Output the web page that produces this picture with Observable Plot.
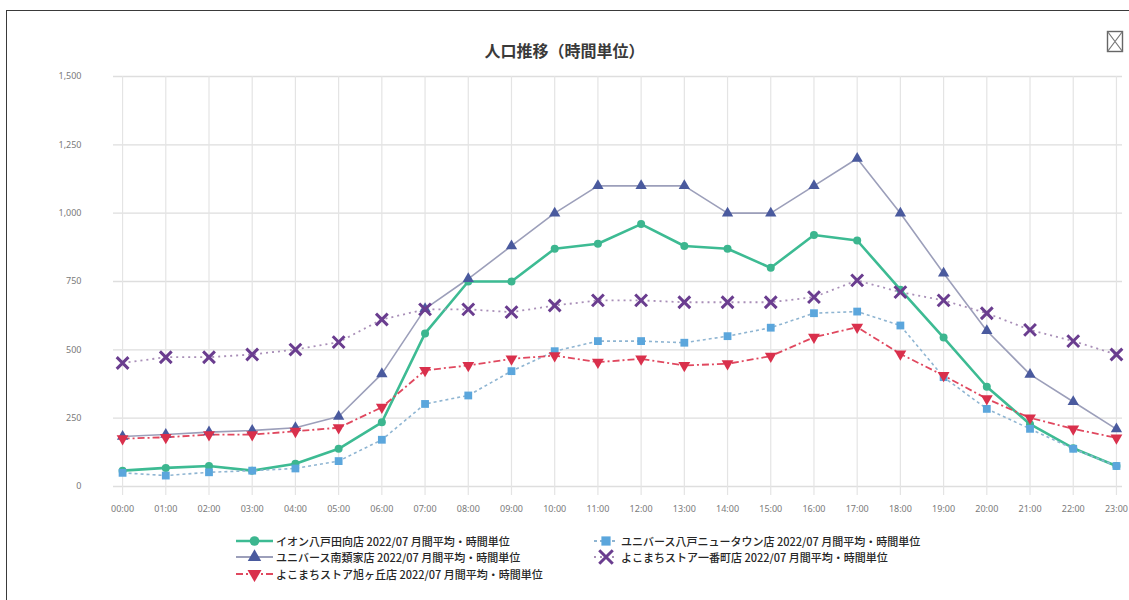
<!DOCTYPE html>
<html>
<head>
<meta charset="utf-8">
<script src="https://cdn.jsdelivr.net/npm/d3@7"></script>
<script src="https://cdn.jsdelivr.net/npm/@observablehq/plot@0.6"></script>
<style>
  body { margin: 0; background: #fff; width: 1129px; height: 600px; overflow: hidden; position: relative;
         font-family: "Noto Sans CJK JP", "Noto Sans", sans-serif; }
  #frame { position: absolute; left: 6px; top: 10px; width: 1300px; height: 800px;
           border-top: 1.5px solid #3a3a3a; border-left: 1.5px solid #3a3a3a; }
  #title { position: absolute; left: 0; top: 38px; width: 1129px; text-align: center;
           font-size: 16px; font-weight: bold; color: #3a3a3a; line-height: 24px; }
  #icon { position: absolute; left: 1106px; top: 30px; }
  #chart { position: absolute; left: 0; top: 0; }
  .leg { position: absolute; display: flex; align-items: center; height: 16px;
         font-size: 11px; color: #262626; white-space: nowrap; font-weight: 500; }
  .leg svg { display: block; margin-right: 3px; }
</style>
</head>
<body>
<div id="frame"></div>
<div id="title">人口推移（時間単位）</div>
<svg id="icon" width="18" height="23" viewBox="0 0 18 23">
  <rect x="1.5" y="1.5" width="15" height="20" fill="none" stroke="#666" stroke-width="1.4"/>
  <path d="M1.5 1.5 L16.5 21.5 M16.5 1.5 L1.5 21.5" stroke="#777" stroke-width="1.2"/>
</svg>
<div id="chart"></div>
<div id="legend"></div>
<script>
// Hour labels along the x axis
const hourLabels = ["00:00","01:00","02:00","03:00","04:00","05:00","06:00","07:00",
  "08:00","09:00","10:00","11:00","12:00","13:00","14:00","15:00",
  "16:00","17:00","18:00","19:00","20:00","21:00","22:00","23:00"];

// Y axis tick values
const yTicks = [0, 250, 500, 750, 1000, 1250, 1500];

// Hourly population per store (2022/07 monthly average)
const aeonTamukai    = [58, 68, 75, 58, 83, 138, 235, 560, 750, 750, 870, 888, 960, 880, 870, 800, 920, 900, 720, 545, 365, 228, 140, 75];
const uniNewtown     = [50, 40, 52, 58, 66, 93, 171, 302, 333, 422, 495, 532, 532, 526, 550, 581, 634, 640, 589, 400, 284, 211, 138, 75];
const uniMinami      = [183, 190, 199, 205, 215, 256, 412, 650, 760, 880, 1000, 1100, 1100, 1100, 1000, 1000, 1100, 1200, 1000, 780, 570, 410, 310, 210];
const yokoIchibancho = [452, 473, 473, 483, 501, 528, 611, 648, 648, 638, 662, 681, 681, 674, 674, 674, 693, 754, 711, 681, 634, 573, 532, 483];
const yokoAsahi      = [175, 180, 190, 190, 202, 215, 290, 425, 443, 467, 479, 455, 467, 443, 449, 477, 546, 583, 485, 406, 321, 251, 211, 178];

// Series names shown in the legend
const names = [
  "イオン八戸田向店 2022/07 月間平均・時間単位",
  "ユニバース八戸ニュータウン店 2022/07 月間平均・時間単位",
  "ユニバース南類家店 2022/07 月間平均・時間単位",
  "よこまちストア一番町店 2022/07 月間平均・時間単位",
  "よこまちストア旭ヶ丘店 2022/07 月間平均・時間単位"
];

// Downward-pointing triangle symbol
const triangleDown = {
  draw(context, size) {
    const y = -Math.sqrt(size / (Math.sqrt(3) * 3));
    context.moveTo(0, -y * 2);
    context.lineTo(-Math.sqrt(3) * y, y);
    context.lineTo(Math.sqrt(3) * y, y);
    context.closePath();
  }
};

const series = [
  { name: names[0], values: aeonTamukai, line: "#3dbb93", lw: 2.6, dash: null, marker: "#3cb68f", symbol: "circle", r: 4, filled: true },
  { name: names[1], values: uniNewtown, line: "#8fb5d2", lw: 1.6, dash: "3,3", marker: "#5ba6dc", symbol: "square", r: 4.4, filled: true },
  { name: names[2], values: uniMinami, line: "#9c9fba", lw: 1.6, dash: null, marker: "#4a5a9e", symbol: "triangle", r: 4.2, filled: true },
  { name: names[3], values: yokoIchibancho, line: "#a98fb8", lw: 1.8, dash: "2,4", marker: "#6a3d8f", symbol: "times", r: 5.4, filled: false },
  { name: names[4], values: yokoAsahi, line: "#e0485f", lw: 1.8, dash: "7,3,2,3", marker: "#d9304c", symbol: triangleDown, r: 4.4, filled: true }
];

const toRows = vals => vals.map((v, i) => ({ i, v }));

const marks = [
  Plot.ruleY(yTicks, { stroke: "#dedede", strokeWidth: 1.3 }),
  Plot.ruleX(d3.range(hourLabels.length), { y1: 1500, y2: -33, stroke: "#e4e4e4", strokeWidth: 1.2 }),
  Plot.axisY(yTicks, { tickFormat: d3.format(","), tickSize: 0, tickPadding: 32, fontSize: 9, color: "#7a7a7a", label: null }),
  Plot.axisX(d3.range(hourLabels.length), { tickFormat: i => hourLabels[i], tickSize: 0, tickPadding: 19, fontSize: 9, color: "#7a7a7a", label: null })
];

// Connecting lines first, then the markers on top
for (const s of series) {
  marks.push(Plot.line(toRows(s.values), {
    x: "i", y: "v", stroke: s.line, strokeWidth: s.lw,
    strokeDasharray: s.dash || undefined, strokeLinecap: "butt"
  }));
}
for (const s of series) {
  marks.push(Plot.dot(toRows(s.values), s.filled
    ? { x: "i", y: "v", symbol: s.symbol, r: s.r, fill: s.marker, stroke: "none" }
    : { x: "i", y: "v", symbol: s.symbol, r: s.r, fill: "none", stroke: s.marker, strokeWidth: 3 }));
}

const chart = Plot.plot({
  width: 1129,
  height: 530,
  marginTop: 76,
  marginBottom: 44,
  marginLeft: 113,
  marginRight: 7,
  style: { background: "transparent", fontFamily: "'Noto Sans', sans-serif" },
  x: { type: "linear", domain: [-0.21, 23.14] },
  y: { domain: [0, 1500] },
  marks
});
document.getElementById("chart").appendChild(chart);

// Legend: two columns, entries flowing row by row
const legendPos = [
  { left: 236, top: 533, w: 37 },
  { left: 594, top: 533, w: 24 },
  { left: 236, top: 549, w: 37 },
  { left: 594, top: 549, w: 24 },
  { left: 236, top: 566, w: 37 }
];
const legend = d3.select("#legend");
series.forEach((s, k) => {
  const p = legendPos[k];
  const item = legend.append("div").attr("class", "leg")
    .style("left", p.left + "px").style("top", p.top + "px");
  const svg = item.append("svg").attr("width", p.w).attr("height", 16);
  svg.append("line").attr("x1", 0).attr("x2", p.w).attr("y1", 8).attr("y2", 8)
    .attr("stroke", s.line).attr("stroke-width", Math.max(s.lw, 1.8))
    .attr("stroke-dasharray", s.dash || null);
  const sym = typeof s.symbol === "string"
    ? { circle: d3.symbolCircle, square: d3.symbolSquare, triangle: d3.symbolTriangle, times: d3.symbolTimes }[s.symbol]
    : s.symbol;
  const size = Math.PI * (s.r + 0.8) * (s.r + 0.8);
  const path = svg.append("path").attr("transform", `translate(${p.w / 2},8)`)
    .attr("d", d3.symbol(sym, size)());
  if (s.filled) path.attr("fill", s.marker);
  else path.attr("fill", "none").attr("stroke", s.marker).attr("stroke-width", 3);
  item.append("span").text(s.name);
});
</script>
</body>
</html>
